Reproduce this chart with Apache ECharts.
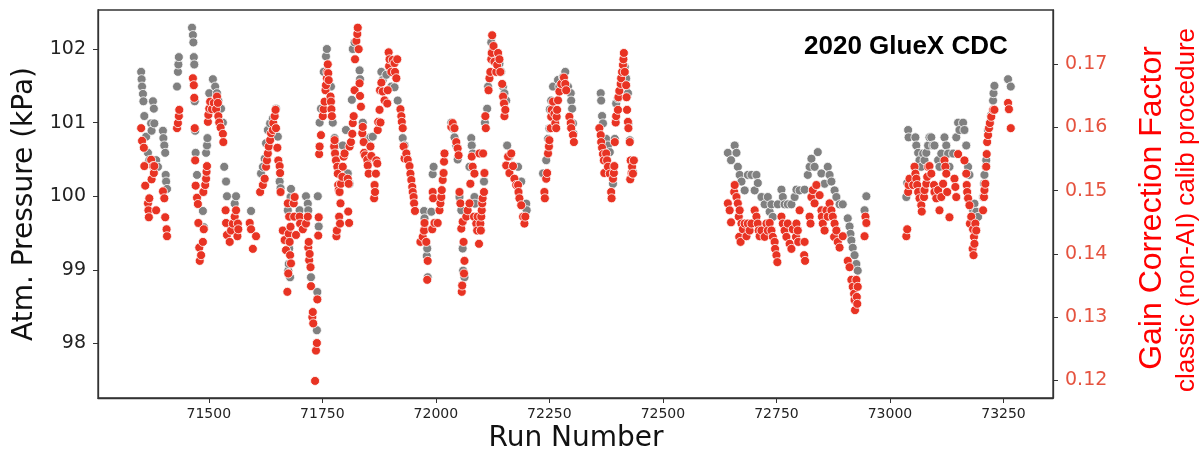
<!DOCTYPE html>
<html>
<head>
<meta charset="utf-8">
<title>2020 GlueX CDC</title>
<script src="https://cdn.jsdelivr.net/npm/echarts@6/dist/echarts.min.js"></script>
<style>
  html, body { margin: 0; padding: 0; background: #fff; }
  #main { width: 1199px; height: 453px; }
</style>
</head>
<body>
<div id="main"></div>
<script>
'use strict'

// tick positions
const runTicks = [71500, 71750, 72000, 72250, 72500, 72750, 73000, 73250];
const pressureTicks = [98, 99, 100, 101, 102];
const gainTicks = [0.12, 0.13, 0.14, 0.15, 0.16, 0.17];

// atmospheric pressure per run (grey points, left axis)
const pressureRuns = [
  71351, 71352, 71353, 71355, 71356, 71358, 71362, 71366, 71369, 71373, 71374, 71377, 71379, 71380, 71384, 71388,
  71399, 71400, 71402, 71404, 71405, 71406, 71408, 71430, 71432, 71433, 71434, 71463, 71465, 71466, 71467, 71468,
  71469, 71470, 71471, 71474, 71487, 71489, 71494, 71496, 71497, 71501, 71509, 71514, 71518, 71521, 71527, 71531,
  71534, 71538, 71540, 71557, 71560, 71593, 71615, 71619, 71623, 71626, 71630, 71635, 71641, 71648, 71652, 71656,
  71658, 71674, 71675, 71676, 71677, 71678, 71679, 71680, 71681, 71685, 71700, 71714, 71718, 71719, 71725, 71738,
  71739, 71740, 71742, 71744, 71747, 71753, 71758, 71760, 71769, 71773, 71777, 71780, 71788, 71795, 71802, 71806,
  71810, 71815, 71817, 71821, 71832, 71833, 71839, 71843, 71850, 71856, 71861, 71880, 71883, 71891, 71902, 71909,
  71916, 71927, 71931, 71935, 71974, 71975, 71980, 71981, 71982, 71990, 71993, 71995, 72034, 72037, 72041, 72045,
  72048, 72052, 72056, 72059, 72060, 72063, 72074, 72078, 72079, 72081, 72085, 72086, 72106, 72108, 72113, 72115,
  72122, 72126, 72133, 72140, 72144, 72148, 72151, 72155, 72157, 72162, 72181, 72188, 72199, 72200, 72236, 72243,
  72247, 72250, 72251, 72254, 72258, 72269, 72272, 72280, 72285, 72291, 72297, 72298, 72300, 72302, 72303, 72363,
  72364, 72366, 72368, 72375, 72379, 72383, 72386, 72390, 72394, 72397, 72401, 72416, 72419, 72423, 72424, 72427,
  72430, 72434, 72643, 72650, 72658, 72662, 72665, 72669, 72673, 72680, 72687, 72695, 72702, 72706, 72709, 72717,
  72724, 72731, 72735, 72739, 72742, 72753, 72761, 72764, 72768, 72775, 72783, 72790, 72794, 72801, 72812, 72819,
  72823, 72827, 72834, 72841, 72849, 72856, 72863, 72867, 72871, 72878, 72882, 72889, 72896, 72907, 72911, 72913,
  72915, 72918, 72922, 72926, 72929, 72944, 72948, 73036, 73038, 73040, 73041, 73056, 73058, 73062, 73065, 73069,
  73073, 73076, 73080, 73084, 73087, 73091, 73095, 73098, 73106, 73109, 73113, 73120, 73124, 73128, 73131, 73139,
  73146, 73150, 73153, 73161, 73164, 73168, 73172, 73175, 73179, 73183, 73186, 73190, 73194, 73205, 73207, 73208,
  73211, 73212, 73216, 73220, 73223, 73227, 73228, 73230, 73260, 73266
];
const pressureKPa = [
  101.69, 101.59, 101.49, 101.39, 101.29, 101.09, 100.81, 100.59, 100.49, 100.99, 100.89, 101.29, 101.19, 100.99, 100.49, 100.40,
  100.89, 100.79, 100.69, 100.59, 100.29, 100.20, 100.10, 101.49, 101.69, 101.79, 101.89, 102.29, 102.19, 102.09, 101.89, 101.79,
  101.29, 100.89, 100.59, 100.29, 99.80, 99.58, 100.59, 100.69, 100.79, 101.40, 101.59, 101.49, 101.40, 101.30, 101.19, 101.00,
  100.40, 100.20, 100.00, 99.90, 100.00, 99.80, 100.31, 100.40, 100.51, 100.72, 100.90, 100.99, 101.06, 101.19, 100.81, 100.20,
  100.11, 99.81, 98.99, 99.08, 99.29, 99.45, 98.90, 99.99, 100.10, 99.91, 99.81, 100.00, 99.90, 99.81, 98.90, 98.18,
  98.70, 100.00, 99.59, 101.00, 101.19, 101.69, 101.90, 102.00, 101.49, 101.00, 100.79, 100.69, 100.38, 100.69, 100.90, 100.31,
  100.17, 101.31, 102.00, 102.09, 101.71, 101.59, 101.00, 100.80, 100.78, 100.80, 100.81, 101.69, 101.58, 101.65, 101.49, 101.48,
  101.30, 100.79, 100.69, 100.58, 99.80, 99.70, 99.19, 99.29, 98.90, 99.79, 100.30, 100.40, 101.00, 100.92, 100.80, 100.69,
  100.50, 99.99, 99.81, 99.29, 98.99, 98.90, 100.40, 100.79, 100.69, 100.58, 99.99, 99.90, 100.20, 101.00, 101.19, 101.49,
  102.09, 101.99, 101.90, 101.80, 101.69, 101.49, 101.40, 101.30, 100.69, 100.54, 100.40, 100.20, 99.90, 99.81, 100.31, 100.49,
  100.78, 100.92, 101.18, 101.30, 101.49, 101.58, 101.49, 101.62, 101.69, 101.49, 101.40, 101.30, 101.19, 100.99, 100.85, 101.40,
  101.30, 101.09, 100.99, 100.78, 100.69, 100.60, 100.40, 100.17, 100.78, 101.26, 101.33, 101.76, 101.60, 101.40, 100.99, 100.76,
  100.49, 100.33, 100.59, 100.49, 100.69, 100.59, 100.40, 100.29, 100.20, 100.08, 100.29, 100.29, 100.08, 100.29, 100.18, 99.99,
  99.89, 99.99, 99.79, 99.89, 99.72, 99.89, 100.09, 99.99, 99.89, 99.89, 99.89, 99.99, 100.09, 100.08, 100.09, 100.29,
  100.40, 100.51, 100.40, 100.60, 100.31, 100.17, 100.40, 100.29, 100.20, 100.08, 99.99, 99.89, 99.89, 99.70, 99.59, 99.49,
  99.40, 99.30, 99.20, 99.08, 98.99, 99.81, 100.00, 99.99, 100.18, 100.90, 100.80, 100.80, 100.69, 100.59, 100.49, 100.40,
  100.58, 100.49, 100.59, 100.69, 100.80, 100.80, 100.69, 100.69, 100.49, 100.40, 100.58, 100.80, 100.69, 100.58, 100.40, 100.58,
  100.80, 101.00, 100.90, 101.00, 100.90, 100.69, 100.40, 100.29, 99.90, 99.81, 99.90, 99.79, 99.72, 99.99, 100.17, 100.29,
  100.40, 100.49, 100.90, 101.00, 101.10, 101.30, 101.40, 101.50, 101.59, 101.49
];

// gain correction factor per run (red points, right axis)
const gainRuns = [
  71351, 71353, 71357, 71358, 71360, 71366, 71367, 71368, 71369, 71373, 71374, 71377, 71379, 71380, 71384, 71399,
  71402, 71404, 71407, 71408, 71430, 71432, 71434, 71435, 71465, 71467, 71468, 71469, 71470, 71471, 71474, 71476,
  71477, 71479, 71480, 71483, 71487, 71488, 71489, 71492, 71494, 71495, 71496, 71498, 71499, 71501, 71503, 71507,
  71511, 71516, 71518, 71520, 71521, 71523, 71526, 71531, 71532, 71537, 71538, 71540, 71546, 71549, 71553, 71557,
  71560, 71563, 71564, 71565, 71590, 71593, 71597, 71604, 71613, 71619, 71623, 71626, 71628, 71630, 71632, 71635,
  71637, 71641, 71642, 71645, 71647, 71648, 71651, 71653, 71656, 71657, 71658, 71663, 71667, 71670, 71673, 71674,
  71675, 71676, 71677, 71678, 71679, 71680, 71681, 71687, 71688, 71689, 71692, 71700, 71701, 71707, 71714, 71718,
  71719, 71720, 71721, 71722, 71724, 71725, 71728, 71729, 71730, 71734, 71736, 71738, 71739, 71741, 71742, 71743,
  71744, 71747, 71751, 71753, 71755, 71757, 71758, 71760, 71761, 71762, 71763, 71764, 71768, 71769, 71770, 71771,
  71776, 71777, 71778, 71780, 71781, 71782, 71783, 71784, 71785, 71786, 71787, 71788, 71789, 71790, 71791, 71794,
  71795, 71797, 71799, 71806, 71807, 71808, 71809, 71810, 71813, 71816, 71817, 71819, 71821, 71822, 71825, 71827,
  71828, 71830, 71832, 71833, 71835, 71838, 71839, 71841, 71842, 71844, 71849, 71850, 71852, 71856, 71858, 71864,
  71865, 71866, 71868, 71869, 71871, 71872, 71873, 71876, 71877, 71878, 71880, 71883, 71887, 71893, 71894, 71896,
  71897, 71898, 71902, 71905, 71909, 71910, 71913, 71915, 71922, 71924, 71925, 71927, 71929, 71931, 71935, 71938,
  71942, 71944, 71946, 71948, 71949, 71951, 71952, 71954, 71966, 71971, 71974, 71975, 71979, 71981, 71982, 71992,
  71993, 71994, 71997, 72004, 72008, 72010, 72012, 72013, 72015, 72017, 72018, 72019, 72034, 72037, 72041, 72045,
  72048, 72050, 72052, 72054, 72056, 72057, 72058, 72059, 72061, 72062, 72063, 72067, 72070, 72074, 72076, 72079,
  72081, 72084, 72085, 72089, 72091, 72092, 72095, 72096, 72098, 72099, 72100, 72101, 72102, 72103, 72104, 72106,
  72107, 72109, 72110, 72116, 72118, 72120, 72122, 72123, 72124, 72127, 72129, 72133, 72135, 72137, 72140, 72142,
  72146, 72148, 72150, 72151, 72153, 72155, 72159, 72162, 72166, 72170, 72173, 72177, 72181, 72182, 72184, 72188,
  72192, 72195, 72197, 72239, 72240, 72243, 72245, 72247, 72249, 72250, 72253, 72254, 72255, 72258, 72261, 72263,
  72265, 72266, 72267, 72269, 72272, 72276, 72282, 72285, 72287, 72294, 72297, 72298, 72302, 72304, 72360, 72363,
  72364, 72366, 72368, 72370, 72371, 72375, 72377, 72379, 72383, 72386, 72387, 72390, 72392, 72393, 72394, 72396,
  72397, 72401, 72402, 72404, 72407, 72408, 72410, 72412, 72413, 72414, 72416, 72419, 72420, 72421, 72423, 72424,
  72427, 72428, 72429, 72431, 72432, 72434, 72436, 72643, 72647, 72650, 72657, 72658, 72662, 72665, 72667, 72668,
  72669, 72671, 72673, 72676, 72680, 72684, 72687, 72691, 72695, 72702, 72706, 72709, 72711, 72713, 72717, 72724,
  72728, 72731, 72735, 72739, 72742, 72746, 72747, 72750, 72752, 72761, 72764, 72768, 72772, 72775, 72779, 72783,
  72786, 72793, 72794, 72797, 72798, 72801, 72811, 72812, 72813, 72823, 72825, 72827, 72830, 72834, 72838, 72845,
  72849, 72850, 72852, 72856, 72860, 72863, 72867, 72871, 72874, 72877, 72878, 72882, 72885, 72889, 72896, 72907,
  72911, 72915, 72918, 72921, 72922, 72923, 72926, 72927, 72928, 72929, 72944, 72946, 72948, 73036, 73038, 73040,
  73041, 73043, 73051, 73054, 73056, 73058, 73060, 73062, 73065, 73069, 73070, 73075, 73076, 73080, 73082, 73084,
  73087, 73091, 73097, 73098, 73102, 73106, 73109, 73113, 73117, 73120, 73122, 73124, 73126, 73131, 73142, 73144,
  73146, 73150, 73164, 73168, 73169, 73170, 73172, 73175, 73176, 73179, 73182, 73183, 73184, 73185, 73186, 73188,
  73190, 73205, 73207, 73208, 73210, 73212, 73213, 73214, 73216, 73218, 73220, 73223, 73227, 73230, 73260, 73262,
  73266
];
const gainFactor = [
  0.1599, 0.1579, 0.1568, 0.1539, 0.1508, 0.1480, 0.1469, 0.1458, 0.1488, 0.1549, 0.1518, 0.1539, 0.1528, 0.1539, 0.1469, 0.1499,
  0.1488, 0.1458, 0.1439, 0.1428, 0.1599, 0.1607, 0.1618, 0.1628, 0.1678, 0.1667, 0.1647, 0.1599, 0.1548, 0.1508, 0.1489, 0.1479,
  0.1449, 0.1410, 0.1389, 0.1398, 0.1419, 0.1498, 0.1439, 0.1509, 0.1519, 0.1530, 0.1539, 0.1609, 0.1620, 0.1630, 0.1641, 0.1629,
  0.1639, 0.1629, 0.1649, 0.1639, 0.1618, 0.1608, 0.1600, 0.1590, 0.1577, 0.1469, 0.1449, 0.1430, 0.1419, 0.1437, 0.1448, 0.1459,
  0.1469, 0.1428, 0.1448, 0.1439, 0.1449, 0.1439, 0.1408, 0.1428, 0.1498, 0.1509, 0.1519, 0.1538, 0.1548, 0.1559, 0.1570, 0.1580,
  0.1591, 0.1596, 0.1607, 0.1618, 0.1628, 0.1599, 0.1568, 0.1548, 0.1539, 0.1528, 0.1498, 0.1437, 0.1422, 0.1406, 0.1340, 0.1480,
  0.1369, 0.1432, 0.1459, 0.1419, 0.1398, 0.1443, 0.1385, 0.1480, 0.1459, 0.1490, 0.1430, 0.1459, 0.1448, 0.1439, 0.1448, 0.1459,
  0.1410, 0.1419, 0.1390, 0.1400, 0.1379, 0.1349, 0.1300, 0.1308, 0.1290, 0.1199, 0.1247, 0.1259, 0.1328, 0.1429, 0.1458, 0.1558,
  0.1570, 0.1588, 0.1618, 0.1629, 0.1641, 0.1659, 0.1667, 0.1678, 0.1688, 0.1700, 0.1686, 0.1675, 0.1649, 0.1641, 0.1629, 0.1618,
  0.1570, 0.1580, 0.1559, 0.1548, 0.1428, 0.1437, 0.1538, 0.1527, 0.1509, 0.1501, 0.1459, 0.1498, 0.1448, 0.1480, 0.1511, 0.1522,
  0.1538, 0.1554, 0.1559, 0.1519, 0.1467, 0.1511, 0.1449, 0.1570, 0.1577, 0.1590, 0.1607, 0.1618, 0.1659, 0.1708, 0.1737, 0.1748,
  0.1758, 0.1724, 0.1670, 0.1650, 0.1633, 0.1591, 0.1601, 0.1577, 0.1560, 0.1556, 0.1549, 0.1540, 0.1527, 0.1570, 0.1555, 0.1488,
  0.1509, 0.1498, 0.1527, 0.1548, 0.1543, 0.1596, 0.1609, 0.1628, 0.1659, 0.1608, 0.1671, 0.1657, 0.1643, 0.1638, 0.1659, 0.1719,
  0.1697, 0.1708, 0.1688, 0.1707, 0.1702, 0.1688, 0.1678, 0.1708, 0.1629, 0.1618, 0.1609, 0.1599, 0.1570, 0.1551, 0.1559, 0.1549,
  0.1539, 0.1527, 0.1517, 0.1506, 0.1498, 0.1490, 0.1480, 0.1468, 0.1419, 0.1427, 0.1437, 0.1449, 0.1419, 0.1359, 0.1389, 0.1439,
  0.1498, 0.1488, 0.1449, 0.1449, 0.1469, 0.1480, 0.1490, 0.1501, 0.1517, 0.1528, 0.1546, 0.1559, 0.1601, 0.1607, 0.1599, 0.1577,
  0.1567, 0.1556, 0.1498, 0.1480, 0.1440, 0.1340, 0.1350, 0.1451, 0.1419, 0.1369, 0.1389, 0.1459, 0.1469, 0.1480, 0.1511, 0.1554,
  0.1538, 0.1459, 0.1527, 0.1448, 0.1437, 0.1459, 0.1416, 0.1559, 0.1448, 0.1437, 0.1459, 0.1469, 0.1480, 0.1488, 0.1559, 0.1498,
  0.1528, 0.1618, 0.1599, 0.1659, 0.1678, 0.1688, 0.1708, 0.1718, 0.1746, 0.1729, 0.1704, 0.1688, 0.1699, 0.1718, 0.1708, 0.1688,
  0.1669, 0.1649, 0.1638, 0.1618, 0.1628, 0.1540, 0.1554, 0.1528, 0.1559, 0.1539, 0.1519, 0.1509, 0.1509, 0.1498, 0.1488, 0.1477,
  0.1459, 0.1448, 0.1459, 0.1498, 0.1488, 0.1519, 0.1528, 0.1559, 0.1570, 0.1580, 0.1599, 0.1617, 0.1628, 0.1641, 0.1622, 0.1607,
  0.1599, 0.1617, 0.1628, 0.1643, 0.1657, 0.1669, 0.1679, 0.1669, 0.1659, 0.1617, 0.1607, 0.1599, 0.1588, 0.1577, 0.1599, 0.1588,
  0.1577, 0.1568, 0.1558, 0.1548, 0.1528, 0.1559, 0.1548, 0.1538, 0.1527, 0.1498, 0.1488, 0.1519, 0.1528, 0.1539, 0.1577, 0.1608,
  0.1618, 0.1628, 0.1648, 0.1658, 0.1669, 0.1678, 0.1688, 0.1699, 0.1708, 0.1718, 0.1688, 0.1667, 0.1648, 0.1628, 0.1609, 0.1599,
  0.1577, 0.1518, 0.1548, 0.1528, 0.1538, 0.1527, 0.1548, 0.1480, 0.1469, 0.1450, 0.1498, 0.1509, 0.1490, 0.1480, 0.1459, 0.1427,
  0.1469, 0.1419, 0.1448, 0.1439, 0.1448, 0.1428, 0.1448, 0.1437, 0.1448, 0.1469, 0.1459, 0.1448, 0.1437, 0.1428, 0.1437, 0.1427,
  0.1448, 0.1437, 0.1449, 0.1437, 0.1427, 0.1419, 0.1408, 0.1398, 0.1387, 0.1459, 0.1448, 0.1437, 0.1427, 0.1448, 0.1416, 0.1408,
  0.1439, 0.1427, 0.1448, 0.1437, 0.1419, 0.1469, 0.1398, 0.1419, 0.1389, 0.1459, 0.1448, 0.1490, 0.1501, 0.1480, 0.1509, 0.1493,
  0.1469, 0.1459, 0.1448, 0.1437, 0.1469, 0.1459, 0.1480, 0.1469, 0.1459, 0.1427, 0.1448, 0.1437, 0.1419, 0.1410, 0.1428, 0.1389,
  0.1379, 0.1359, 0.1348, 0.1337, 0.1327, 0.1311, 0.1359, 0.1332, 0.1321, 0.1348, 0.1428, 0.1459, 0.1449, 0.1428, 0.1439, 0.1498,
  0.1509, 0.1519, 0.1509, 0.1538, 0.1527, 0.1519, 0.1509, 0.1498, 0.1488, 0.1477, 0.1467, 0.1490, 0.1501, 0.1511, 0.1522, 0.1538,
  0.1539, 0.1527, 0.1509, 0.1498, 0.1488, 0.1501, 0.1469, 0.1490, 0.1511, 0.1548, 0.1538, 0.1527, 0.1498, 0.1458, 0.1519, 0.1506,
  0.1490, 0.1558, 0.1548, 0.1527, 0.1509, 0.1498, 0.1488, 0.1477, 0.1448, 0.1459, 0.1408, 0.1439, 0.1398, 0.1427, 0.1416, 0.1448,
  0.1437, 0.1469, 0.1490, 0.1501, 0.1511, 0.1538, 0.1558, 0.1577, 0.1588, 0.1599, 0.1607, 0.1617, 0.1628, 0.1628, 0.1639, 0.1629,
  0.1599
];

var myChart = echarts.init(document.getElementById('main'), null, { renderer: 'canvas' });

const pressurePoints = pressureRuns.map((r, i) => [r, pressureKPa[i]]);
const gainPoints = gainRuns.map((r, i) => [r, gainFactor[i]]);

const tickFont = 'DejaVu Sans';

var option = {
    animation: false,
    backgroundColor: '#fff',
    title: {
        text: '2020 GlueX CDC',
        left: 799,
        top: 29,
        textStyle: { fontFamily: 'Liberation Sans', fontWeight: 'bold', fontSize: 26, color: '#000' }
    },
    grid: {
        left: 98, right: 146, top: 10, bottom: 55,
        show: true, borderColor: '#333', borderWidth: 1.3,
        outerBoundsMode: 'none'
    },
    xAxis: {
        type: 'value',
        min: 71256, max: 73359,
        axisLine: { show: true, lineStyle: { color: '#333', width: 1.3 } },
        axisTick: { show: true, length: 5, customValues: runTicks, lineStyle: { color: '#333' } },
        axisLabel: {
            customValues: runTicks,
            formatter: v => String(v),
            fontFamily: tickFont, fontSize: 14, color: '#222', margin: 9
        },
        splitLine: { show: false }
    },
    yAxis: [
        {
            type: 'value',
            position: 'left',
            min: 97.26, max: 102.53,
            axisLine: { show: true, lineStyle: { color: '#333', width: 1.3 } },
            axisTick: { show: true, length: 5, customValues: pressureTicks, lineStyle: { color: '#333' } },
            axisLabel: {
                customValues: pressureTicks,
                formatter: v => String(v),
                fontFamily: tickFont, fontSize: 19, color: '#222', margin: 12
            },
            splitLine: { show: false }
        },
        {
            type: 'value',
            position: 'right',
            min: 0.1172, max: 0.1786,
            axisLine: { show: true, lineStyle: { color: '#333', width: 1.3 } },
            axisTick: { show: true, length: 5, customValues: gainTicks, lineStyle: { color: '#333' } },
            axisLabel: {
                customValues: gainTicks,
                formatter: v => v.toFixed(2),
                fontFamily: tickFont, fontSize: 19, color: '#e5533f', margin: 12
            },
            splitLine: { show: false }
        }
    ],
    graphic: [
        {
            type: 'text', x: 25, y: 204, rotation: Math.PI / 2,
            style: { text: 'Atm. Pressure (kPa)', font: '28px "DejaVu Sans"', fill: '#111', align: 'center', verticalAlign: 'middle' }
        },
        {
            type: 'text', x: 576, y: 439,
            style: { text: 'Run Number', font: '28px "DejaVu Sans"', fill: '#111', align: 'center', verticalAlign: 'middle' }
        },
        {
            type: 'text', x: 1152, y: 208, rotation: Math.PI / 2,
            style: { text: 'Gain Correction Factor', font: '32px "Liberation Sans"', fill: '#ff0000', align: 'center', verticalAlign: 'middle' }
        },
        {
            type: 'text', x: 1187, y: 210, rotation: Math.PI / 2,
            style: { text: 'classic (non-AI) calib procedure', font: '26px "Liberation Sans"', fill: '#ff0000', align: 'center', verticalAlign: 'middle' }
        }
    ],
    series: [
        {
            name: 'Atm. Pressure',
            type: 'scatter',
            yAxisIndex: 0,
            data: pressurePoints,
            symbolSize: 9,
            z: 2,
            itemStyle: { color: '#808080', borderColor: '#ffffff', borderWidth: 0.8, opacity: 1 }
        },
        {
            name: 'Gain Correction Factor',
            type: 'scatter',
            yAxisIndex: 1,
            data: gainPoints,
            symbolSize: 9,
            z: 3,
            itemStyle: { color: '#e83323', borderColor: '#ffffff', borderWidth: 0.8, opacity: 1 }
        }
    ]
};

myChart.setOption(option);
</script>
</body>
</html>
